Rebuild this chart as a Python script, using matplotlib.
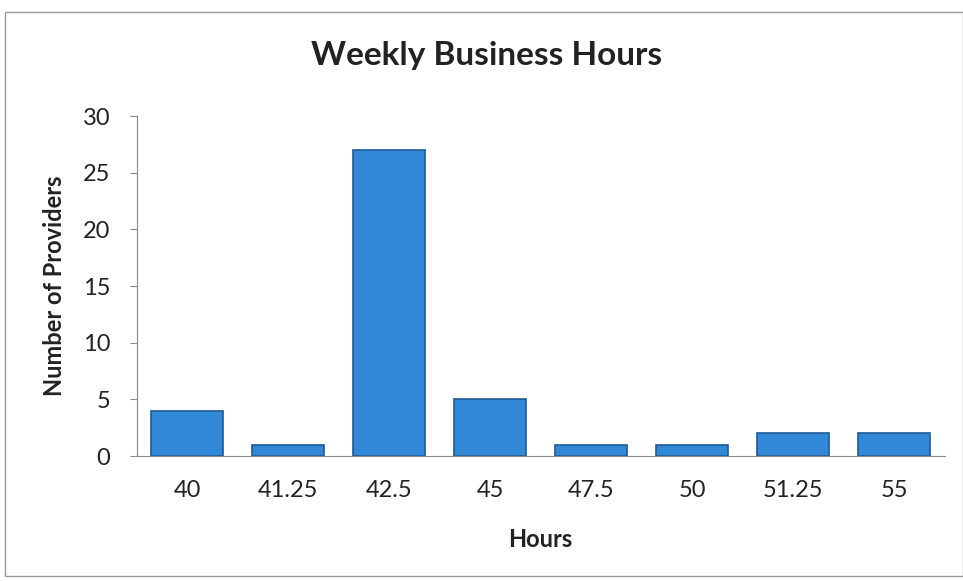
import matplotlib.pyplot as plt
from matplotlib.patches import Rectangle

hours = ["40", "41.25", "42.5", "45", "47.5", "50", "51.25", "55"]
providers = [4, 1, 27, 5, 1, 1, 2, 2]

plt.rcParams['font.family'] = ['Lato', 'DejaVu Sans']

fig = plt.figure(figsize=(9.63, 5.81), dpi=100)
ax = fig.add_axes([0.142, 0.215, 0.839, 0.585])

x = range(len(hours))
ax.bar(x, providers, width=0.71, color='#3088d6', edgecolor='#1d5a94', linewidth=1.2)

ax.set_xlim(-0.5, len(hours) - 0.5)
ax.set_ylim(0, 30)
ax.set_yticks(range(0, 31, 5))
ax.set_xticks(list(x))
ax.set_xticklabels(hours)
ax.tick_params(axis='x', length=0, pad=17, labelsize=17, colors='#222222')
ax.tick_params(axis='y', length=5, color='#888888', labelsize=17, pad=14, labelcolor='#222222')

for s in ['top', 'right']:
    ax.spines[s].set_visible(False)
for s in ['left', 'bottom']:
    ax.spines[s].set_color('#888888')

fig.text(0.505, 0.905, 'Weekly Business Hours', fontsize=24, fontweight='bold',
         color='#222222', ha='center', va='center')
ax.set_xlabel('Hours', fontsize=17, fontweight='bold', color='#222222', labelpad=20)
ax.set_ylabel('Number of Providers', fontsize=17, fontweight='bold', color='#222222', labelpad=12)

# chart border
fig.patches.append(Rectangle((0.005, 0.009), 0.995, 0.97, transform=fig.transFigure,
                             fill=False, edgecolor='#999999', linewidth=1))

fig.savefig('out.png', dpi=100)
